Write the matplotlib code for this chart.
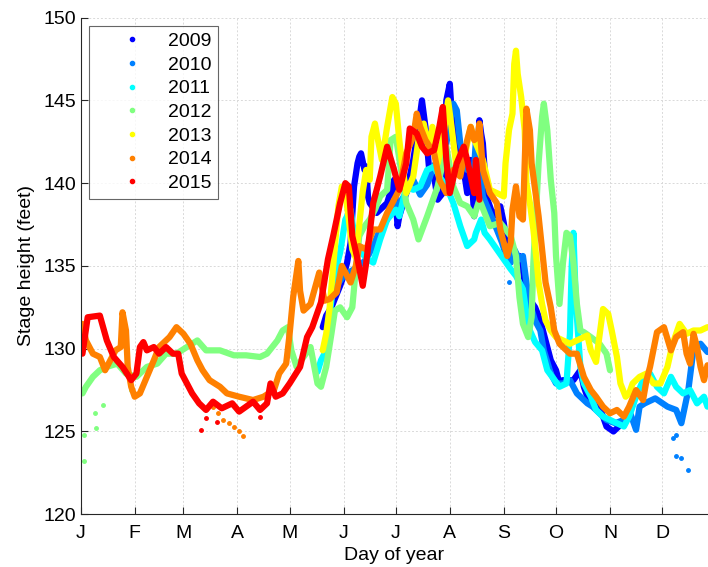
import matplotlib
matplotlib.use("Agg")
import matplotlib.pyplot as plt
from matplotlib.lines import Line2D

plt.rcParams["font.family"] = ["Liberation Sans", "DejaVu Sans"]

# colours: MATLAB jet(7)
years = ["2009", "2010", "2011", "2012", "2013", "2014", "2015"]
colors = [(0, 0, 1), (0, 0.5, 1), (0, 1, 1), (0.5, 1, 0.5),
          (1, 1, 0), (1, 0.5, 0), (1, 0, 0)]

month_days = [1, 32, 60, 91, 121, 152, 182, 213, 244, 274, 305, 335]
month_labels = ["J", "F", "M", "A", "M", "J", "J", "A", "S", "O", "N", "D"]

# stage height traces (day of year, feet)
d2009 = [140, 142, 145, 150, 152, 154, 156, 158, 160, 161, 162, 164, 165, 166, 167,
         171, 177, 181, 183, 184, 188, 192, 195, 197, 199, 201, 204, 206, 209, 211,
         213, 214, 216, 218, 221, 223, 225, 227, 230, 231, 232, 234, 238, 242, 244,
         246, 249, 253, 255, 256, 258, 262, 265, 267, 271, 274, 276, 278, 284, 288,
         290, 292, 295, 299, 303, 307, 310]
v2009 = [131.3, 132.0, 132.5, 133.8, 134.4, 135.2, 136.4, 139.8, 141.2, 141.6, 141.8,
         140.8, 141.0, 139.2, 138.8, 138.2, 138.8, 140.2, 137.4, 138.0, 139.4, 141.4,
         143.4, 145.0, 143.4, 141.0, 140.4, 139.0, 139.4, 145.0, 146.0, 144.4, 142.4,
         141.4, 140.8, 139.4, 141.4, 138.0, 143.8, 143.0, 142.4, 139.2, 138.0, 138.6,
         137.6, 136.2, 135.5, 135.6, 134.7, 134.0, 133.1, 132.5, 131.7, 130.9, 129.3,
         128.7, 127.9, 128.1, 128.1, 128.7, 127.7, 127.1, 126.9, 126.5, 125.3, 125.0,
         125.3]

d2010 = [148, 152, 158, 163, 165, 169, 173, 177, 181, 184, 188, 190, 192, 196, 200,
         204, 207, 211, 215, 217, 219, 223, 227, 228, 230, 232, 236, 240, 243, 246,
         248, 250, 253, 255, 257, 259, 262, 265, 267, 271, 274, 278, 282, 286, 292,
         295, 299, 303, 308, 313, 316, 318, 320, 322, 325, 331, 338, 343, 346, 350,
         353, 357, 361]
v2010 = [133.8, 134.4, 134.8, 135.2, 135.4, 136.2, 137.2, 137.8, 138.6, 138.8, 139.4,
         139.8, 140.2, 139.3, 139.9, 141.1, 140.4, 142.4, 144.8, 144.4, 142.4, 140.8,
         141.0, 142.6, 141.0, 139.2, 138.2, 137.2, 136.4, 135.4, 135.2, 136.0, 135.4,
         135.6, 134.0, 132.7, 131.7, 131.1, 129.9, 128.5, 127.9, 127.9, 128.1, 127.3,
         126.7, 126.5, 126.1, 125.7, 125.5, 125.7, 126.3, 125.7, 125.1, 126.5, 126.7,
         127.0, 126.5, 126.3, 125.5, 127.5, 130.0, 130.3, 129.8]
d2010_pts = [247, 341, 343, 343, 346, 350]
v2010_pts = [134.0, 124.6, 124.8, 123.5, 123.4, 122.7]

d2011 = [137, 139, 141, 145, 148, 150, 153, 156, 159, 162, 166, 169, 173, 177, 182,
         184, 188, 192, 196, 200, 204, 207, 211, 215, 219, 223, 227, 228, 231, 233,
         236, 240, 244, 248, 251, 255, 257, 259, 262, 266, 269, 276, 280, 282, 283,
         284, 285, 286, 288, 290, 294, 297, 301, 305, 309, 313, 316, 320, 324, 328,
         332, 336, 340, 343, 347, 351, 355, 359, 361]
v2011 = [128.6, 129.3, 129.7, 132.9, 135.0, 135.8, 137.8, 138.4, 136.2, 135.8, 135.4,
         135.2, 136.6, 137.8, 138.4, 138.0, 139.8, 139.6, 139.8, 140.8, 141.0, 140.4,
         139.8, 138.8, 137.4, 136.2, 136.6, 137.0, 137.8, 137.0, 136.6, 136.0, 135.4,
         134.8, 134.4, 133.6, 132.1, 131.1, 130.4, 129.9, 128.7, 127.7, 127.9, 130.9,
         135.0, 137.0, 134.0, 131.9, 128.9, 127.9, 127.1, 126.3, 125.9, 125.7, 125.5,
         125.3, 125.9, 127.1, 128.1, 128.5, 127.7, 127.3, 128.3, 127.7, 127.3, 127.5,
         126.7, 127.1, 126.5]

d2012 = [2, 4, 8, 12, 16, 22, 27, 33, 39, 45, 50, 56, 62, 68, 73, 81, 89, 96, 104,
         108, 114, 117, 120, 122, 125, 129, 133, 137, 139, 142, 145, 147, 150, 154,
         157, 159, 161, 164, 167, 170, 173, 177, 179, 182, 188, 192, 195, 200, 206,
         211, 215, 219, 223, 227, 230, 236, 242, 248, 251, 253, 255, 258, 260, 261,
         263, 264, 266, 267, 269, 271, 273, 274, 276, 278, 280, 282, 284, 286, 288,
         290, 294, 299, 303, 305]
v2012 = [127.3, 127.7, 128.3, 128.7, 128.9, 129.1, 128.5, 128.3, 128.9, 129.1, 129.7,
         129.7, 130.1, 130.5, 129.9, 129.9, 129.6, 129.6, 129.5, 129.7, 130.5, 131.1,
         131.3, 129.9, 128.9, 129.5, 130.1, 127.9, 127.7, 128.9, 130.9, 132.3, 132.5,
         131.9, 132.5, 134.8, 136.8, 137.4, 137.8, 138.4, 139.2, 139.6, 142.6, 142.8,
         138.8, 137.8, 136.6, 138.0, 139.8, 142.2, 139.8, 138.8, 138.6, 138.0, 139.0,
         137.4, 137.6, 136.8, 135.6, 133.1, 131.5, 130.7, 131.9, 135.2, 139.2, 141.2,
         144.0, 144.8, 143.2, 140.2, 138.2, 135.6, 132.7, 135.2, 137.0, 136.8, 135.2,
         132.7, 131.1, 131.0, 130.7, 130.3, 129.7, 128.7]
d2012_pts = [3, 3, 9, 10, 14, 30]
v2012_pts = [123.2, 124.8, 126.1, 125.2, 126.6, 127.5]

d2013 = [140, 142, 144, 147, 149, 151, 153, 155, 157, 159, 161, 163, 165, 167, 168,
         170, 171, 174, 177, 180, 182, 184, 186, 188, 192, 195, 198, 201, 203, 206,
         209, 212, 214, 217, 221, 225, 228, 232, 236, 240, 244, 245, 247, 249, 250,
         251, 252, 254, 256, 257, 259, 261, 263, 264, 266, 268, 271, 274, 278, 282,
         288, 292, 294, 297, 301, 304, 306, 309, 311, 314, 316, 318, 322, 326, 330,
         334, 338, 341, 345, 349, 353, 357, 361]
v2013 = [129.9, 130.9, 132.5, 136.2, 138.6, 139.8, 139.4, 137.8, 136.0, 135.5, 137.5,
         139.5, 140.8, 140.2, 142.8, 143.6, 143.0, 141.4, 143.4, 145.2, 144.8, 142.6,
         140.8, 139.4, 140.4, 142.6, 143.6, 142.0, 143.4, 141.2, 142.6, 145.0, 143.4,
         140.8, 141.4, 143.4, 142.4, 141.4, 139.6, 139.4, 139.2, 141.2, 143.2, 144.2,
         147.2, 148.0, 146.6, 145.2, 143.2, 140.0, 138.8, 137.2, 135.2, 134.0, 132.7,
         131.7, 131.1, 130.7, 130.5, 130.3, 130.6, 130.8, 129.9, 129.2, 132.4, 132.1,
         131.1, 129.5, 127.9, 127.1, 127.3, 127.9, 128.3, 128.5, 127.9, 127.9, 128.9,
         130.3, 131.5, 130.9, 131.1, 131.1, 131.3]

d2014 = [2, 4, 8, 12, 15, 18, 21, 24, 25, 27, 28, 30, 32, 35, 39, 43, 46, 52, 56,
         60, 64, 68, 71, 75, 81, 85, 92, 100, 106, 112, 115, 119, 121, 123, 126, 127,
         129, 133, 138, 141, 144, 148, 151, 154, 156, 159, 161, 165, 169, 173, 177,
         181, 184, 188, 192, 194, 196, 199, 204, 207, 211, 215, 219, 223, 225, 227,
         229, 230, 232, 236, 240, 242, 244, 246, 248, 249, 251, 253, 255, 257, 259,
         260, 262, 264, 266, 268, 271, 273, 276, 282, 286, 290, 294, 297, 301, 305,
         309, 313, 316, 320, 324, 326, 328, 332, 336, 340, 343, 347, 349, 351, 353,
         355, 357, 359, 361]
v2014 = [131.5, 130.5, 129.7, 129.5, 128.7, 129.3, 129.9, 130.1, 132.2, 131.1, 128.9,
         127.7, 127.1, 127.3, 128.3, 129.3, 130.1, 130.7, 131.3, 130.9, 130.3, 129.3,
         128.7, 128.1, 127.7, 127.3, 127.1, 126.9, 127.1, 127.5, 128.5, 129.1, 130.9,
         133.1, 135.3, 133.5, 132.3, 132.7, 134.6, 132.9, 133.0, 133.4, 135.0, 134.4,
         134.0, 135.0, 136.2, 136.0, 137.2, 137.2, 138.2, 139.0, 139.6, 141.8, 142.8,
         144.2, 143.4, 142.6, 141.8, 140.2, 139.4, 140.8, 140.4, 142.6, 143.4, 142.6,
         142.8, 143.6, 140.8, 139.4, 138.8, 137.2, 136.4, 135.6, 136.4, 138.4, 139.8,
         138.0, 137.8, 144.5, 143.2, 141.2, 139.6, 138.0, 136.0, 134.0, 132.5, 131.1,
         130.3, 129.7, 129.7, 128.3, 127.5, 127.1, 126.5, 126.1, 126.3, 125.9, 126.5,
         127.5, 126.9, 128.1, 128.9, 131.0, 131.3, 129.9, 130.7, 131.0, 129.7, 129.1,
         130.9, 130.1, 128.9, 128.1, 129.0]
d2014_pts = [77, 80, 83, 86, 89, 92, 94]
v2014_pts = [126.5, 126.1, 125.7, 125.5, 125.3, 125.0, 124.7]

d2015 = [2, 5, 12, 16, 20, 25, 30, 33, 35, 37, 39, 43, 46, 50, 54, 57, 59, 62, 65,
         69, 73, 77, 82, 88, 92, 96, 100, 104, 108, 110, 113, 117, 121, 127, 131,
         134, 136, 139, 143, 146, 150, 153, 155, 157, 160, 163, 165, 169, 173, 177,
         181, 184, 188, 190, 194, 197, 200, 204, 207, 209, 211, 213, 217, 221, 223,
         227, 228, 230]
v2015 = [129.7, 131.9, 132.0, 130.5, 129.5, 128.9, 128.1, 128.5, 130.1, 130.4, 129.9,
         130.1, 129.7, 130.1, 129.7, 129.7, 128.5, 127.9, 127.3, 126.7, 126.3, 126.8,
         126.4, 126.7, 126.2, 126.5, 126.8, 126.3, 126.7, 127.9, 127.1, 127.3, 127.9,
         128.9, 130.7, 131.3, 131.9, 132.8, 135.4, 136.8, 138.8, 140.0, 139.8, 136.8,
         135.4, 133.8, 135.2, 138.8, 140.4, 142.2, 140.8, 139.6, 141.2, 143.3, 143.0,
         142.2, 141.8, 142.0, 143.4, 144.6, 141.4, 139.4, 141.2, 142.2, 141.4, 139.4,
         141.4, 139.0]
d2015_pts = [70, 73, 79, 104]
v2015_pts = [125.1, 125.8, 125.6, 125.9]

traces = [(d2009, v2009, [], []), (d2010, v2010, d2010_pts, v2010_pts),
          (d2011, v2011, [], []), (d2012, v2012, d2012_pts, v2012_pts),
          (d2013, v2013, [], []), (d2014, v2014, d2014_pts, v2014_pts),
          (d2015, v2015, d2015_pts, v2015_pts)]

FS = 14

fig = plt.figure(figsize=(7.08, 5.67), dpi=100)
ax = fig.add_axes([0.114, 0.093, 0.886, 0.876])

for (d, v, dp, vp), c in zip(traces, colors):
    ax.plot(d, v, color=c, lw=4.5, solid_capstyle="round", solid_joinstyle="round")
    if dp:
        ax.plot(dp, vp, ".", color=c, ms=5, ls="none")

ax.set_xlim(1, 361.3)
ax.set_ylim(120, 150)
ax.set_xticks(month_days)
ax.set_xticklabels(month_labels)
ax.set_yticks([120, 125, 130, 135, 140, 145, 150])
ax.tick_params(direction="in", length=5, width=0.8, colors="0.15", labelsize=FS,
               labelcolor="black")
ax.tick_params(axis="x", pad=8)
ax.tick_params(axis="y", pad=3)
ax.grid(True, ls=(0, (2, 2)), color="0.85", lw=0.7)
ax.set_axisbelow(True)
for s in ["top", "right"]:
    ax.spines[s].set_visible(False)
for s in ["left", "bottom"]:
    ax.spines[s].set_color("0.15")
    ax.spines[s].set_linewidth(0.8)

ax.set_xlabel("Day of year", fontsize=FS, labelpad=3)
ax.set_ylabel("Stage height (feet)", fontsize=FS, labelpad=6)

handles = [Line2D([], [], ls="none", marker=".", ms=6, color=c) for c in colors]
leg = ax.legend(handles, years, loc="upper left", bbox_to_anchor=(0.0132, 0.9835),
                borderaxespad=0, fontsize=FS, frameon=True, fancybox=False,
                borderpad=0.35, labelspacing=0.31, handletextpad=0.0,
                handlelength=3.7)
leg.get_frame().set_edgecolor("0.25")
leg.get_frame().set_linewidth(0.8)

fig.savefig("out.png", dpi=100)
